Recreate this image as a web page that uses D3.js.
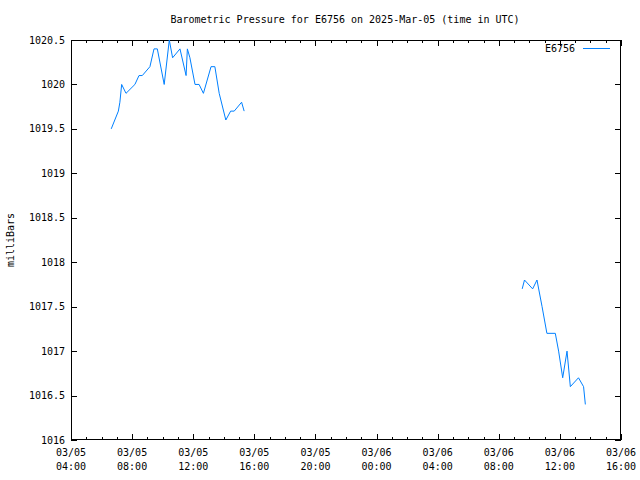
<!DOCTYPE html>
<html><head><meta charset="utf-8">
<script src="https://cdn.jsdelivr.net/npm/d3@7"></script>
<style>
html,body{margin:0;padding:0;background:#fff;}
text{font-family:"DejaVu Sans Mono","Liberation Mono",monospace;font-size:10px;fill:#000;}
</style></head>
<body><svg id="c" width="640" height="480"></svg>
<script>
const title = "Barometric Pressure for E6756 on 2025-Mar-05 (time in UTC)";
const seriesName = "E6756";
const yLabel = "milliBars";
const times = [
  "2025-03-05 06:38","2025-03-05 07:06","2025-03-05 07:12","2025-03-05 07:19","2025-03-05 07:36",
  "2025-03-05 08:11","2025-03-05 08:27","2025-03-05 08:40","2025-03-05 09:10","2025-03-05 09:26",
  "2025-03-05 09:39","2025-03-05 10:06","2025-03-05 10:26","2025-03-05 10:39","2025-03-05 11:08",
  "2025-03-05 11:32","2025-03-05 11:37","2025-03-05 11:47","2025-03-05 12:07","2025-03-05 12:23",
  "2025-03-05 12:40","2025-03-05 13:10","2025-03-05 13:25","2025-03-05 13:42","2025-03-05 14:08",
  "2025-03-05 14:27","2025-03-05 14:41","2025-03-05 15:10","2025-03-05 15:20",
  null,
  "2025-03-06 09:32","2025-03-06 09:41","2025-03-06 10:13","2025-03-06 10:30","2025-03-06 10:50",
  "2025-03-06 11:09","2025-03-06 11:42","2025-03-06 11:55","2025-03-06 12:11","2025-03-06 12:28",
  "2025-03-06 12:41","2025-03-06 13:13","2025-03-06 13:33","2025-03-06 13:40"
];
const values = [
  1019.5,1019.7,1019.8,1020.0,1019.9,
  1020.0,1020.1,1020.1,1020.2,1020.4,
  1020.4,1020.0,1020.5,1020.3,1020.4,
  1020.1,1020.4,1020.3,1020.0,1020.0,
  1019.9,1020.2,1020.2,1019.9,1019.6,
  1019.7,1019.7,1019.8,1019.7,
  null,
  1017.7,1017.8,1017.7,1017.8,1017.5,
  1017.2,1017.2,1017.0,1016.7,1017.0,
  1016.6,1016.7,1016.6,1016.4
];
const xDomain = ["2025-03-05 04:00","2025-03-06 16:00"];
const yDomain = [1016, 1020.5];
const yTicks = [1016,1016.5,1017,1017.5,1018,1018.5,1019,1019.5,1020,1020.5];

const parse = d3.utcParse("%Y-%m-%d %H:%M");
const data = times.map((t,i)=>({t: t?parse(t):null, v: values[i]}));

const L=71, R=621, T=40, B=440;
const svg = d3.select("#c");
const x = d3.scaleUtc().domain(xDomain.map(parse)).range([L,R]);
const y = d3.scaleLinear().domain(yDomain).range([B,T]);

svg.append("text").attr("x",345).attr("y",23).attr("text-anchor","middle").text(title);

const g = svg.append("g").attr("shape-rendering","crispEdges");
// border
g.append("rect").attr("x",L+0.5).attr("y",T+0.5).attr("width",R-L-1).attr("height",B-T-1)
  .attr("fill","none").attr("stroke","#000");

const majorX = d3.utcHour.every(4).range(x.domain()[0], new Date(+x.domain()[1]+1));
const minorX = d3.utcHour.every(1).range(x.domain()[0], new Date(+x.domain()[1]+1));
minorX.forEach(d=>{
  const px = Math.round(x(d))+0.5;
  const isMajor = d.getUTCHours()%4===0;
  const len = isMajor?6:3;
  g.append("line").attr("x1",px).attr("x2",px).attr("y1",B).attr("y2",B-len).attr("stroke","#000");
  g.append("line").attr("x1",px).attr("x2",px).attr("y1",T).attr("y2",T+len).attr("stroke","#000");
});
const fmtD = d3.utcFormat("%m/%d"), fmtH = d3.utcFormat("%H:%M");
majorX.forEach(d=>{
  const px = x(d);
  svg.append("text").attr("x",px).attr("y",456).attr("text-anchor","middle").text(fmtD(d));
  svg.append("text").attr("x",px).attr("y",470).attr("text-anchor","middle").text(fmtH(d));
});
yTicks.forEach(v=>{
  const py = Math.round(y(v))+0.5;
  g.append("line").attr("x1",L).attr("x2",L+6).attr("y1",py).attr("y2",py).attr("stroke","#000");
  g.append("line").attr("x1",R-6).attr("x2",R).attr("y1",py).attr("y2",py).attr("stroke","#000");
  svg.append("text").attr("x",65).attr("y",y(v)+3.5).attr("text-anchor","end").text(String(v));
});
svg.append("text").attr("transform","translate(14,240) rotate(-90)").attr("text-anchor","middle").text(yLabel);

const line = d3.line().defined(d=>d.t!==null && d.v!==null).x(d=>x(d.t)).y(d=>y(d.v));
svg.append("path").datum(data).attr("d",line).attr("fill","none").attr("stroke","#0080ff").attr("stroke-width",1);

// legend
svg.append("text").attr("x",575).attr("y",52).attr("text-anchor","end").text(seriesName);
svg.append("line").attr("x1",583).attr("x2",610).attr("y1",48.5).attr("y2",48.5).attr("stroke","#0080ff").attr("stroke-width",1);
</script></body></html>
